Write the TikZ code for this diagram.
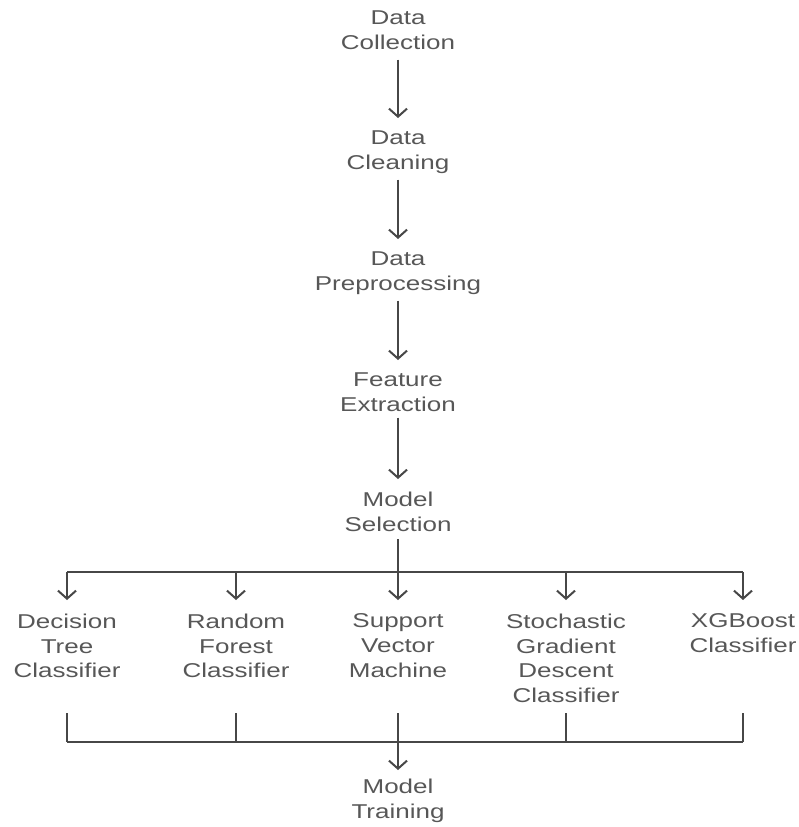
\documentclass[tikz,border=0pt]{standalone}
\usepackage{fontspec}
\setmainfont[FakeStretch=1.3]{Liberation Sans}
\usetikzlibrary{arrows.meta}
\definecolor{txt}{HTML}{575757}
\definecolor{ln}{HTML}{474747}
\begin{document}
\begin{tikzpicture}[x=1pt,y=-1pt,
  lbl/.style={align=center,inner sep=0pt,outer sep=0pt,text=txt,font=\fontsize{20}{24.6}\selectfont},
  conn/.style={draw=ln,line width=2pt},
  arr/.style={conn,-{Straight Barb[length=8pt,width=18pt,line width=2pt]}}]
\useasboundingbox (0,0) rectangle (798,827);
% main chain
\node[lbl,anchor=north] (dc) at (398,11) {Data\\Collection};
\node[lbl,anchor=north] (cl) at (398,131) {Data\\Cleaning};
\node[lbl,anchor=north] (pp) at (398,252) {Data\\Preprocessing};
\node[lbl,anchor=north] (fe) at (398,373) {Feature\\Extraction};
\node[lbl,anchor=north] (ms) at (398,492) {Model\\Selection};
\draw[arr] (dc.south) ++(0,10) -- ([yshift=13]cl.north);
\draw[arr] (cl.south) ++(0,6) -- ([yshift=13]pp.north);
\draw[arr] (pp.south) ++(0,6) -- ([yshift=13]fe.north);
\draw[arr] (fe.south) ++(0,6) -- ([yshift=13]ms.north);
% classifiers
\node[lbl,anchor=north] (dt) at (67,614) {Decision\\Tree\\Classifier};
\node[lbl,anchor=north] (rf) at (236,614) {Random\\Forest\\Classifier};
\node[lbl,anchor=north] (svm) at (398,614) {Support\\Vector\\Machine};
\node[lbl,anchor=north] (sgd) at (566,614) {Stochastic\\Gradient\\Descent\\Classifier};
\node[lbl,anchor=north] (xgb) at (743,614) {XGBoost\\Classifier};
\node[lbl,anchor=north] (mt) at (398,779) {Model\\Training};
% fan out
\coordinate (top) at (398,572);
\coordinate (bot) at (398,742);
\draw[conn] (ms.south) ++(0,8) -- (top);
\draw[conn] (dt.north |- top) -- (xgb.north |- top);
\foreach \n in {dt,rf,svm,sgd,xgb}{
  \draw[arr] (\n.north |- top) -- ([yshift=14]\n.north);
}
% fan in
\draw[conn] (dt.north |- bot) -- (xgb.north |- bot);
\foreach \n in {dt,rf,sgd,xgb}{
  \draw[conn] (\n.north |- 0,713) -- (\n.north |- bot);
}
\draw[arr] (svm.north |- 0,713) -- ([yshift=9]mt.north);
\end{tikzpicture}
\end{document}
